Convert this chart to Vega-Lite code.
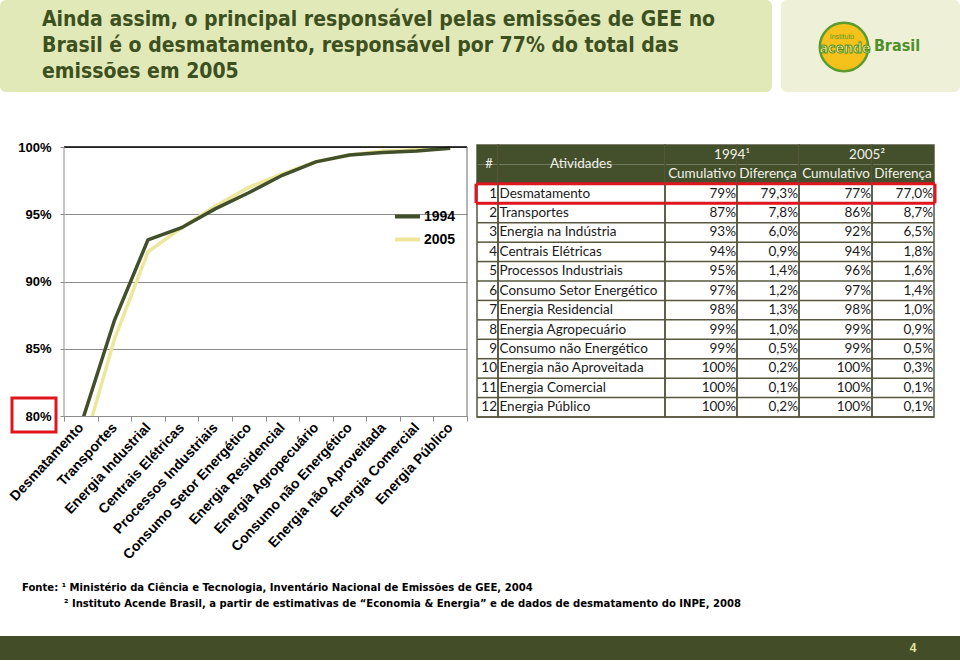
{
  "$schema": "https://vega.github.io/schema/vega-lite/v6.json",
  "padding": 0,
  "background": "white",
  "spacing": 0,
  "config": {"view": {"stroke": null}, "font": "Liberation Sans"},
  "datasets": {
    "series": [
      {"activity": "Desmatamento", "series": "1994", "value": 0.793},
      {"activity": "Transportes", "series": "1994", "value": 0.871},
      {"activity": "Energia Industrial", "series": "1994", "value": 0.931},
      {"activity": "Centrais Elétricas", "series": "1994", "value": 0.940},
      {"activity": "Processos Industriais", "series": "1994", "value": 0.954},
      {"activity": "Consumo Setor Energético", "series": "1994", "value": 0.966},
      {"activity": "Energia Residencial", "series": "1994", "value": 0.979},
      {"activity": "Energia Agropecuário", "series": "1994", "value": 0.989},
      {"activity": "Consumo não Energético", "series": "1994", "value": 0.994},
      {"activity": "Energia não Aproveitada", "series": "1994", "value": 0.996},
      {"activity": "Energia Comercial", "series": "1994", "value": 0.997},
      {"activity": "Energia Público", "series": "1994", "value": 0.999},
      {"activity": "Desmatamento", "series": "2005", "value": 0.770},
      {"activity": "Transportes", "series": "2005", "value": 0.857},
      {"activity": "Energia Industrial", "series": "2005", "value": 0.922},
      {"activity": "Centrais Elétricas", "series": "2005", "value": 0.940},
      {"activity": "Processos Industriais", "series": "2005", "value": 0.956},
      {"activity": "Consumo Setor Energético", "series": "2005", "value": 0.970},
      {"activity": "Energia Residencial", "series": "2005", "value": 0.980},
      {"activity": "Energia Agropecuário", "series": "2005", "value": 0.989},
      {"activity": "Consumo não Energético", "series": "2005", "value": 0.994},
      {"activity": "Energia não Aproveitada", "series": "2005", "value": 0.997},
      {"activity": "Energia Comercial", "series": "2005", "value": 0.998},
      {"activity": "Energia Público", "series": "2005", "value": 0.999}
    ],
    "rows": [
      {"rank": "1", "atividade": "Desmatamento", "c94": "79%", "d94": "79,3%", "c05": "77%", "d05": "77,0%"},
      {"rank": "2", "atividade": "Transportes", "c94": "87%", "d94": "7,8%", "c05": "86%", "d05": "8,7%"},
      {"rank": "3", "atividade": "Energia na Indústria", "c94": "93%", "d94": "6,0%", "c05": "92%", "d05": "6,5%"},
      {"rank": "4", "atividade": "Centrais Elétricas", "c94": "94%", "d94": "0,9%", "c05": "94%", "d05": "1,8%"},
      {"rank": "5", "atividade": "Processos Industriais", "c94": "95%", "d94": "1,4%", "c05": "96%", "d05": "1,6%"},
      {"rank": "6", "atividade": "Consumo Setor Energético", "c94": "97%", "d94": "1,2%", "c05": "97%", "d05": "1,4%"},
      {"rank": "7", "atividade": "Energia Residencial", "c94": "98%", "d94": "1,3%", "c05": "98%", "d05": "1,0%"},
      {"rank": "8", "atividade": "Energia Agropecuário", "c94": "99%", "d94": "1,0%", "c05": "99%", "d05": "0,9%"},
      {"rank": "9", "atividade": "Consumo não Energético", "c94": "99%", "d94": "0,5%", "c05": "99%", "d05": "0,5%"},
      {"rank": "10", "atividade": "Energia não Aproveitada", "c94": "100%", "d94": "0,2%", "c05": "100%", "d05": "0,3%"},
      {"rank": "11", "atividade": "Energia Comercial", "c94": "100%", "d94": "0,1%", "c05": "100%", "d05": "0,1%"},
      {"rank": "12", "atividade": "Energia Público", "c94": "100%", "d94": "0,2%", "c05": "100%", "d05": "0,1%"}
    ]
  },
  "vconcat": [
    {
      "hconcat": [
        {
          "width": 772, "height": 92,
          "view": {"fill": "#E2E9B9", "stroke": null, "cornerRadius": 6},
          "data": {"values": [
            {"line": 1, "t": "Ainda assim, o principal responsável pelas emissões de GEE no"},
            {"line": 2, "t": "Brasil é o desmatamento, responsável por 77% do total das"},
            {"line": 3, "t": "emissões em 2005"}
          ]},
          "mark": {"type": "text", "align": "left", "baseline": "middle", "font": "DejaVu Sans Condensed, sans-serif", "fontSize": 21, "fontWeight": "bold", "color": "#3D5020"},
          "encoding": {
            "y": {"field": "line", "type": "ordinal", "scale": {"type": "point", "padding": 0.77}, "axis": null},
            "x": {"value": 42},
            "text": {"field": "t"}
          }
        },
        {
          "width": 179, "height": 92,
          "view": {"fill": "#EEF1D8", "stroke": null, "cornerRadius": 6},
          "layer": [
            {
              "data": {"values": [{"name": "logo"}]},
              "mark": {"type": "point", "shape": "circle", "filled": true, "fill": "#F5C21B", "stroke": "#5C9B2F", "strokeWidth": 2.5, "size": 2350, "opacity": 1},
              "encoding": {"x": {"value": 63}, "y": {"value": 47}}
            },
            {
              "data": {"values": [{"t": "Instituto"}]},
              "mark": {"type": "text", "fontSize": 7, "color": "#5C9B2F", "align": "center", "baseline": "middle"},
              "encoding": {"x": {"value": 61}, "y": {"value": 37}, "text": {"field": "t"}}
            },
            {
              "data": {"values": [{"t": "acende"}]},
              "mark": {"type": "text", "font": "DejaVu Sans Condensed, sans-serif", "fontSize": 14, "fontWeight": "bold", "fill": "#FBE98C", "stroke": "#4F8F2A", "strokeWidth": 0.9, "align": "center", "baseline": "middle"},
              "encoding": {"x": {"value": 64}, "y": {"value": 49}, "text": {"field": "t"}}
            },
            {
              "data": {"values": [{"t": "Brasil"}]},
              "mark": {"type": "text", "font": "DejaVu Sans Condensed, sans-serif", "fontSize": 16, "fontWeight": "bold", "color": "#4F8F2A", "align": "center", "baseline": "middle"},
              "encoding": {"x": {"value": 116}, "y": {"value": 46}, "text": {"field": "t"}}
            }
          ]
        }
      ],
      "spacing": 9,
      "bounds": "flush"
    },
    {"width": 960, "height": 49, "view": {"fill": "white"}, "data": {"values": []}, "mark": "point", "encoding": {}},
    {
      "hconcat": [
        {"width": 64, "height": 1, "view": {"fill": "white"}, "data": {"values": []}, "mark": "point", "encoding": {}},
        {
          "width": 403, "height": 271,
          "layer": [
            {
              "data": {"name": "series"},
              "transform": [{"filter": "datum.series == '2005'"}],
              "mark": {"type": "line", "strokeWidth": 3.5, "clip": true},
              "encoding": {
                "x": {"field": "activity", "type": "nominal", "sort": ["Desmatamento","Transportes","Energia Industrial","Centrais Elétricas","Processos Industriais","Consumo Setor Energético","Energia Residencial","Energia Agropecuário","Consumo não Energético","Energia não Aproveitada","Energia Comercial","Energia Público"], "scale": {"type": "band", "paddingInner": 0, "paddingOuter": 0}, "bandPosition": 0.5,
                  "axis": {"title": null, "labelAngle": -47, "labelAlign": "right", "labelBaseline": "middle", "labelFont": "Liberation Sans", "labelFontWeight": "bold", "labelFontSize": 14, "labelColor": "#000000", "labelPadding": 4, "labelOverlap": false, "labelLimit": 300, "tickBand": "extent", "tickSize": 5, "tickColor": "#8c8c8c", "domainColor": "#8c8c8c", "grid": false}},
                "y": {"field": "value", "type": "quantitative", "scale": {"domain": [0.8, 1.0015], "zero": false, "nice": false},
                  "axis": {"values": [0.8, 0.85, 0.9, 0.95, 1], "format": ".0%", "title": null, "labelFont": "Liberation Sans", "labelFontWeight": "bold", "labelFontSize": 13, "labelColor": "#000000", "labelPadding": 9, "tickSize": 4, "tickColor": "#8c8c8c", "domain": false, "grid": true, "gridColor": "#8c8c8c", "gridWidth": 1}},
                "color": {"field": "series", "type": "nominal", "scale": {"domain": ["1994", "2005"], "range": ["#434F2A", "#ECE79B"]},
                  "legend": {"orient": "none", "legendX": 393, "legendY": 202, "title": null, "symbolType": "stroke", "symbolSize": 625, "symbolStrokeWidth": 4, "labelFont": "Liberation Sans", "labelFontWeight": "bold", "labelFontSize": 14, "labelColor": "#000000", "labelOffset": 2, "rowPadding": -1, "padding": 0}}
              }
            },
            {
              "data": {"name": "series"},
              "transform": [{"filter": "datum.series == '1994'"}],
              "mark": {"type": "line", "strokeWidth": 3.5, "clip": true},
              "encoding": {
                "x": {"field": "activity", "type": "nominal", "sort": ["Desmatamento","Transportes","Energia Industrial","Centrais Elétricas","Processos Industriais","Consumo Setor Energético","Energia Residencial","Energia Agropecuário","Consumo não Energético","Energia não Aproveitada","Energia Comercial","Energia Público"], "scale": {"type": "band", "paddingInner": 0, "paddingOuter": 0}, "bandPosition": 0.5},
                "y": {"field": "value", "type": "quantitative", "scale": {"domain": [0.8, 1.0015], "zero": false, "nice": false}},
                "color": {"field": "series", "type": "nominal", "scale": {"domain": ["1994", "2005"], "range": ["#434F2A", "#ECE79B"]}}
              }
            },
            {
              "data": {"values": [{"level": 1}]},
              "mark": {"type": "rule", "color": "#000000", "strokeWidth": 1.5},
              "encoding": {"y": {"field": "level", "type": "quantitative"}}
            },
            {
              "data": {"values": [{"lo": 0.8, "hi": 1}]},
              "mark": {"type": "rule", "color": "#8c8c8c", "strokeWidth": 1},
              "encoding": {"y": {"field": "lo", "type": "quantitative"}, "y2": {"field": "hi"}, "x": {"value": 0}}
            },
            {
              "data": {"values": [{"lo": 0.8, "hi": 1}]},
              "mark": {"type": "rule", "color": "#6a6a6a", "strokeWidth": 1},
              "encoding": {"y": {"field": "lo", "type": "quantitative"}, "y2": {"field": "hi"}, "x": {"value": "width"}}
            },
            {
              "data": {"values": [{"level": 0.8}]},
              "mark": {"type": "rect", "fill": "white", "fillOpacity": 0, "stroke": "#E0161F", "strokeWidth": 3, "yOffset": -18, "y2Offset": 16},
              "encoding": {"y": {"field": "level", "type": "quantitative"}, "y2": {"field": "level"}, "x": {"value": -52}, "x2": {"value": -8}}
            }
          ]
        },
        {"width": 10, "height": 1, "data": {"values": []}, "mark": "point", "encoding": {}},
        {
          "hconcat": [
            {
              "width": 21, "height": 272,
              "view": {"stroke": "#57573f", "strokeWidth": 1.5},
              "layer": [
                {"data": {"values": [{"line": "h1"}, {"line": "h2"}]}, "mark": {"type": "rect", "fill": "#44502C"}, "encoding": {"y": {"field": "line", "type": "ordinal", "scale": {"type": "band", "domain": ["h1","h2","1","2","3","4","5","6","7","8","9","10","11","12"], "paddingInner": 0, "paddingOuter": 0}, "axis": null}, "x": {"value": 0}, "x2": {"value": "width"}}},
                {"data": {"name": "rows"}, "mark": {"type": "rule", "color": "#57573f", "strokeWidth": 1.5}, "encoding": {"y": {"field": "rank", "type": "ordinal", "scale": {"type": "band", "domain": ["h1","h2","1","2","3","4","5","6","7","8","9","10","11","12"], "paddingInner": 0, "paddingOuter": 0}, "axis": null, "bandPosition": 1}, "x": {"value": 0}, "x2": {"value": "width"}}},
                {"data": {"name": "rows"}, "mark": {"type": "text", "align": "right", "baseline": "middle", "dx": -1, "font": "Lato", "fontSize": 13.5, "color": "#1a1a1a"}, "encoding": {"y": {"field": "rank", "type": "ordinal", "scale": {"type": "band", "domain": ["h1","h2","1","2","3","4","5","6","7","8","9","10","11","12"], "paddingInner": 0, "paddingOuter": 0}, "axis": null}, "x": {"value": "width"}, "text": {"field": "rank"}}},
                {"data": {"values": [{"label": "#", "line": "h1"}]}, "mark": {"type": "text", "align": "center", "baseline": "middle", "font": "Lato", "fontSize": 13, "color": "#F2F2EA"}, "encoding": {"y": {"field": "line", "type": "ordinal", "scale": {"type": "band", "domain": ["h1","h2","1","2","3","4","5","6","7","8","9","10","11","12"], "paddingInner": 0, "paddingOuter": 0}, "axis": null, "bandPosition": 1}, "x": {"value": 12}, "text": {"field": "label"}}},
                {"data": {"name": "rows"}, "transform": [{"filter": "datum.rank == '1'"}], "mark": {"type": "rule", "color": "#E0161F", "strokeWidth": 3}, "encoding": {"y": {"field": "rank", "type": "ordinal", "scale": {"type": "band", "domain": ["h1","h2","1","2","3","4","5","6","7","8","9","10","11","12"], "paddingInner": 0, "paddingOuter": 0}, "axis": null, "bandPosition": 0}, "x": {"value": -1}, "x2": {"value": "width"}}},
                {"data": {"name": "rows"}, "transform": [{"filter": "datum.rank == '1'"}], "mark": {"type": "rule", "color": "#E0161F", "strokeWidth": 3}, "encoding": {"y": {"field": "rank", "type": "ordinal", "scale": {"type": "band", "domain": ["h1","h2","1","2","3","4","5","6","7","8","9","10","11","12"], "paddingInner": 0, "paddingOuter": 0}, "axis": null, "bandPosition": 1}, "x": {"value": -1}, "x2": {"value": "width"}}},
                {"data": {"name": "rows"}, "transform": [{"filter": "datum.rank == '1'"}], "mark": {"type": "rect", "fill": "white", "fillOpacity": 0, "stroke": "#E0161F", "strokeWidth": 3}, "encoding": {"y": {"field": "rank", "type": "ordinal", "scale": {"type": "band", "domain": ["h1","h2","1","2","3","4","5","6","7","8","9","10","11","12"], "paddingInner": 0, "paddingOuter": 0}, "axis": null}, "x": {"value": -1}, "x2": {"value": -1}}}
              ]
            },
            {
              "width": 167, "height": 272,
              "view": {"stroke": "#57573f", "strokeWidth": 1.5},
              "layer": [
                {"data": {"values": [{"line": "h1"}, {"line": "h2"}]}, "mark": {"type": "rect", "fill": "#44502C"}, "encoding": {"y": {"field": "line", "type": "ordinal", "scale": {"type": "band", "domain": ["h1","h2","1","2","3","4","5","6","7","8","9","10","11","12"], "paddingInner": 0, "paddingOuter": 0}, "axis": null}, "x": {"value": 0}, "x2": {"value": "width"}}},
                {"data": {"name": "rows"}, "mark": {"type": "rule", "color": "#57573f", "strokeWidth": 1.5}, "encoding": {"y": {"field": "rank", "type": "ordinal", "scale": {"type": "band", "domain": ["h1","h2","1","2","3","4","5","6","7","8","9","10","11","12"], "paddingInner": 0, "paddingOuter": 0}, "axis": null, "bandPosition": 1}, "x": {"value": 0}, "x2": {"value": "width"}}},
                {"data": {"name": "rows"}, "mark": {"type": "text", "align": "left", "baseline": "middle", "dx": 1.5, "font": "Lato", "fontSize": 13.5, "color": "#1a1a1a"}, "encoding": {"y": {"field": "rank", "type": "ordinal", "scale": {"type": "band", "domain": ["h1","h2","1","2","3","4","5","6","7","8","9","10","11","12"], "paddingInner": 0, "paddingOuter": 0}, "axis": null}, "x": {"value": 0}, "text": {"field": "atividade"}}},
                {"data": {"values": [{"label": "Atividades", "line": "h1"}]}, "mark": {"type": "text", "align": "center", "baseline": "middle", "font": "Lato", "fontSize": 13.5, "color": "#F2F2EA"}, "encoding": {"y": {"field": "line", "type": "ordinal", "scale": {"type": "band", "domain": ["h1","h2","1","2","3","4","5","6","7","8","9","10","11","12"], "paddingInner": 0, "paddingOuter": 0}, "axis": null, "bandPosition": 1}, "x": {"value": 83}, "text": {"field": "label"}}},
                {"data": {"name": "rows"}, "transform": [{"filter": "datum.rank == '1'"}], "mark": {"type": "rule", "color": "#E0161F", "strokeWidth": 3}, "encoding": {"y": {"field": "rank", "type": "ordinal", "scale": {"type": "band", "domain": ["h1","h2","1","2","3","4","5","6","7","8","9","10","11","12"], "paddingInner": 0, "paddingOuter": 0}, "axis": null, "bandPosition": 0}, "x": {"value": 0}, "x2": {"value": "width"}}},
                {"data": {"name": "rows"}, "transform": [{"filter": "datum.rank == '1'"}], "mark": {"type": "rule", "color": "#E0161F", "strokeWidth": 3}, "encoding": {"y": {"field": "rank", "type": "ordinal", "scale": {"type": "band", "domain": ["h1","h2","1","2","3","4","5","6","7","8","9","10","11","12"], "paddingInner": 0, "paddingOuter": 0}, "axis": null, "bandPosition": 1}, "x": {"value": 0}, "x2": {"value": "width"}}}
              ]
            },
            {
              "width": 72, "height": 272,
              "view": {"stroke": "#57573f", "strokeWidth": 1.5},
              "layer": [
                {"data": {"values": [{"line": "h1"}, {"line": "h2"}]}, "mark": {"type": "rect", "fill": "#44502C"}, "encoding": {"y": {"field": "line", "type": "ordinal", "scale": {"type": "band", "domain": ["h1","h2","1","2","3","4","5","6","7","8","9","10","11","12"], "paddingInner": 0, "paddingOuter": 0}, "axis": null}, "x": {"value": 0}, "x2": {"value": "width"}}},
                {"data": {"name": "rows"}, "mark": {"type": "rule", "color": "#57573f", "strokeWidth": 1.5}, "encoding": {"y": {"field": "rank", "type": "ordinal", "scale": {"type": "band", "domain": ["h1","h2","1","2","3","4","5","6","7","8","9","10","11","12"], "paddingInner": 0, "paddingOuter": 0}, "axis": null, "bandPosition": 1}, "x": {"value": 0}, "x2": {"value": "width"}}},
                {"data": {"name": "rows"}, "mark": {"type": "text", "align": "right", "baseline": "middle", "dx": -1, "font": "Lato", "fontSize": 13.5, "color": "#1a1a1a"}, "encoding": {"y": {"field": "rank", "type": "ordinal", "scale": {"type": "band", "domain": ["h1","h2","1","2","3","4","5","6","7","8","9","10","11","12"], "paddingInner": 0, "paddingOuter": 0}, "axis": null}, "x": {"value": "width"}, "text": {"field": "c94"}}},
                {"data": {"values": [{"label": "Cumulativo", "line": "h2"}]}, "mark": {"type": "text", "align": "center", "baseline": "middle", "font": "Lato", "fontSize": 13.5, "color": "#F2F2EA"}, "encoding": {"y": {"field": "line", "type": "ordinal", "scale": {"type": "band", "domain": ["h1","h2","1","2","3","4","5","6","7","8","9","10","11","12"], "paddingInner": 0, "paddingOuter": 0}, "axis": null}, "x": {"value": 37}, "text": {"field": "label"}}},
                {"data": {"name": "rows"}, "transform": [{"filter": "datum.rank == '1'"}], "mark": {"type": "rule", "color": "#E0161F", "strokeWidth": 3}, "encoding": {"y": {"field": "rank", "type": "ordinal", "scale": {"type": "band", "domain": ["h1","h2","1","2","3","4","5","6","7","8","9","10","11","12"], "paddingInner": 0, "paddingOuter": 0}, "axis": null, "bandPosition": 0}, "x": {"value": 0}, "x2": {"value": "width"}}},
                {"data": {"name": "rows"}, "transform": [{"filter": "datum.rank == '1'"}], "mark": {"type": "rule", "color": "#E0161F", "strokeWidth": 3}, "encoding": {"y": {"field": "rank", "type": "ordinal", "scale": {"type": "band", "domain": ["h1","h2","1","2","3","4","5","6","7","8","9","10","11","12"], "paddingInner": 0, "paddingOuter": 0}, "axis": null, "bandPosition": 1}, "x": {"value": 0}, "x2": {"value": "width"}}}
              ]
            },
            {
              "width": 62, "height": 272,
              "view": {"stroke": "#57573f", "strokeWidth": 1.5},
              "layer": [
                {"data": {"values": [{"line": "h1"}, {"line": "h2"}]}, "mark": {"type": "rect", "fill": "#44502C"}, "encoding": {"y": {"field": "line", "type": "ordinal", "scale": {"type": "band", "domain": ["h1","h2","1","2","3","4","5","6","7","8","9","10","11","12"], "paddingInner": 0, "paddingOuter": 0}, "axis": null}, "x": {"value": 0}, "x2": {"value": "width"}}},
                {"data": {"name": "rows"}, "mark": {"type": "rule", "color": "#57573f", "strokeWidth": 1.5}, "encoding": {"y": {"field": "rank", "type": "ordinal", "scale": {"type": "band", "domain": ["h1","h2","1","2","3","4","5","6","7","8","9","10","11","12"], "paddingInner": 0, "paddingOuter": 0}, "axis": null, "bandPosition": 1}, "x": {"value": 0}, "x2": {"value": "width"}}},
                {"data": {"name": "rows"}, "mark": {"type": "text", "align": "right", "baseline": "middle", "dx": -1, "font": "Lato", "fontSize": 13.5, "color": "#1a1a1a"}, "encoding": {"y": {"field": "rank", "type": "ordinal", "scale": {"type": "band", "domain": ["h1","h2","1","2","3","4","5","6","7","8","9","10","11","12"], "paddingInner": 0, "paddingOuter": 0}, "axis": null}, "x": {"value": "width"}, "text": {"field": "d94"}}},
                {"data": {"values": [{"label": "Diferença", "line": "h2"}]}, "mark": {"type": "text", "align": "center", "baseline": "middle", "font": "Lato", "fontSize": 13.5, "color": "#F2F2EA"}, "encoding": {"y": {"field": "line", "type": "ordinal", "scale": {"type": "band", "domain": ["h1","h2","1","2","3","4","5","6","7","8","9","10","11","12"], "paddingInner": 0, "paddingOuter": 0}, "axis": null}, "x": {"value": 31}, "text": {"field": "label"}}},
                {"data": {"values": [{"label": "1994¹", "line": "h1"}]}, "mark": {"type": "text", "align": "center", "baseline": "middle", "dx": -5, "font": "Lato", "fontSize": 13.5, "color": "#F2F2EA"}, "encoding": {"y": {"field": "line", "type": "ordinal", "scale": {"type": "band", "domain": ["h1","h2","1","2","3","4","5","6","7","8","9","10","11","12"], "paddingInner": 0, "paddingOuter": 0}, "axis": null}, "x": {"value": 0}, "text": {"field": "label"}}},
                {"data": {"name": "rows"}, "transform": [{"filter": "datum.rank == '1'"}], "mark": {"type": "rule", "color": "#E0161F", "strokeWidth": 3}, "encoding": {"y": {"field": "rank", "type": "ordinal", "scale": {"type": "band", "domain": ["h1","h2","1","2","3","4","5","6","7","8","9","10","11","12"], "paddingInner": 0, "paddingOuter": 0}, "axis": null, "bandPosition": 0}, "x": {"value": 0}, "x2": {"value": "width"}}},
                {"data": {"name": "rows"}, "transform": [{"filter": "datum.rank == '1'"}], "mark": {"type": "rule", "color": "#E0161F", "strokeWidth": 3}, "encoding": {"y": {"field": "rank", "type": "ordinal", "scale": {"type": "band", "domain": ["h1","h2","1","2","3","4","5","6","7","8","9","10","11","12"], "paddingInner": 0, "paddingOuter": 0}, "axis": null, "bandPosition": 1}, "x": {"value": 0}, "x2": {"value": "width"}}}
              ]
            },
            {
              "width": 73, "height": 272,
              "view": {"stroke": "#57573f", "strokeWidth": 1.5},
              "layer": [
                {"data": {"values": [{"line": "h1"}, {"line": "h2"}]}, "mark": {"type": "rect", "fill": "#44502C"}, "encoding": {"y": {"field": "line", "type": "ordinal", "scale": {"type": "band", "domain": ["h1","h2","1","2","3","4","5","6","7","8","9","10","11","12"], "paddingInner": 0, "paddingOuter": 0}, "axis": null}, "x": {"value": 0}, "x2": {"value": "width"}}},
                {"data": {"name": "rows"}, "mark": {"type": "rule", "color": "#57573f", "strokeWidth": 1.5}, "encoding": {"y": {"field": "rank", "type": "ordinal", "scale": {"type": "band", "domain": ["h1","h2","1","2","3","4","5","6","7","8","9","10","11","12"], "paddingInner": 0, "paddingOuter": 0}, "axis": null, "bandPosition": 1}, "x": {"value": 0}, "x2": {"value": "width"}}},
                {"data": {"name": "rows"}, "mark": {"type": "text", "align": "right", "baseline": "middle", "dx": -1, "font": "Lato", "fontSize": 13.5, "color": "#1a1a1a"}, "encoding": {"y": {"field": "rank", "type": "ordinal", "scale": {"type": "band", "domain": ["h1","h2","1","2","3","4","5","6","7","8","9","10","11","12"], "paddingInner": 0, "paddingOuter": 0}, "axis": null}, "x": {"value": "width"}, "text": {"field": "c05"}}},
                {"data": {"values": [{"label": "Cumulativo", "line": "h2"}]}, "mark": {"type": "text", "align": "center", "baseline": "middle", "font": "Lato", "fontSize": 13.5, "color": "#F2F2EA"}, "encoding": {"y": {"field": "line", "type": "ordinal", "scale": {"type": "band", "domain": ["h1","h2","1","2","3","4","5","6","7","8","9","10","11","12"], "paddingInner": 0, "paddingOuter": 0}, "axis": null}, "x": {"value": 37}, "text": {"field": "label"}}},
                {"data": {"name": "rows"}, "transform": [{"filter": "datum.rank == '1'"}], "mark": {"type": "rule", "color": "#E0161F", "strokeWidth": 3}, "encoding": {"y": {"field": "rank", "type": "ordinal", "scale": {"type": "band", "domain": ["h1","h2","1","2","3","4","5","6","7","8","9","10","11","12"], "paddingInner": 0, "paddingOuter": 0}, "axis": null, "bandPosition": 0}, "x": {"value": 0}, "x2": {"value": "width"}}},
                {"data": {"name": "rows"}, "transform": [{"filter": "datum.rank == '1'"}], "mark": {"type": "rule", "color": "#E0161F", "strokeWidth": 3}, "encoding": {"y": {"field": "rank", "type": "ordinal", "scale": {"type": "band", "domain": ["h1","h2","1","2","3","4","5","6","7","8","9","10","11","12"], "paddingInner": 0, "paddingOuter": 0}, "axis": null, "bandPosition": 1}, "x": {"value": 0}, "x2": {"value": "width"}}}
              ]
            },
            {
              "width": 62, "height": 272,
              "view": {"stroke": "#57573f", "strokeWidth": 1.5},
              "layer": [
                {"data": {"values": [{"line": "h1"}, {"line": "h2"}]}, "mark": {"type": "rect", "fill": "#44502C"}, "encoding": {"y": {"field": "line", "type": "ordinal", "scale": {"type": "band", "domain": ["h1","h2","1","2","3","4","5","6","7","8","9","10","11","12"], "paddingInner": 0, "paddingOuter": 0}, "axis": null}, "x": {"value": 0}, "x2": {"value": "width"}}},
                {"data": {"name": "rows"}, "mark": {"type": "rule", "color": "#57573f", "strokeWidth": 1.5}, "encoding": {"y": {"field": "rank", "type": "ordinal", "scale": {"type": "band", "domain": ["h1","h2","1","2","3","4","5","6","7","8","9","10","11","12"], "paddingInner": 0, "paddingOuter": 0}, "axis": null, "bandPosition": 1}, "x": {"value": 0}, "x2": {"value": "width"}}},
                {"data": {"name": "rows"}, "mark": {"type": "text", "align": "right", "baseline": "middle", "dx": -1, "font": "Lato", "fontSize": 13.5, "color": "#1a1a1a"}, "encoding": {"y": {"field": "rank", "type": "ordinal", "scale": {"type": "band", "domain": ["h1","h2","1","2","3","4","5","6","7","8","9","10","11","12"], "paddingInner": 0, "paddingOuter": 0}, "axis": null}, "x": {"value": "width"}, "text": {"field": "d05"}}},
                {"data": {"values": [{"label": "Diferença", "line": "h2"}]}, "mark": {"type": "text", "align": "center", "baseline": "middle", "font": "Lato", "fontSize": 13.5, "color": "#F2F2EA"}, "encoding": {"y": {"field": "line", "type": "ordinal", "scale": {"type": "band", "domain": ["h1","h2","1","2","3","4","5","6","7","8","9","10","11","12"], "paddingInner": 0, "paddingOuter": 0}, "axis": null}, "x": {"value": 31}, "text": {"field": "label"}}},
                {"data": {"values": [{"label": "2005²", "line": "h1"}]}, "mark": {"type": "text", "align": "center", "baseline": "middle", "dx": -5, "font": "Lato", "fontSize": 13.5, "color": "#F2F2EA"}, "encoding": {"y": {"field": "line", "type": "ordinal", "scale": {"type": "band", "domain": ["h1","h2","1","2","3","4","5","6","7","8","9","10","11","12"], "paddingInner": 0, "paddingOuter": 0}, "axis": null}, "x": {"value": 0}, "text": {"field": "label"}}},
                {"data": {"name": "rows"}, "transform": [{"filter": "datum.rank == '1'"}], "mark": {"type": "rule", "color": "#E0161F", "strokeWidth": 3}, "encoding": {"y": {"field": "rank", "type": "ordinal", "scale": {"type": "band", "domain": ["h1","h2","1","2","3","4","5","6","7","8","9","10","11","12"], "paddingInner": 0, "paddingOuter": 0}, "axis": null, "bandPosition": 0}, "x": {"value": 0}, "x2": {"value": 63}}},
                {"data": {"name": "rows"}, "transform": [{"filter": "datum.rank == '1'"}], "mark": {"type": "rule", "color": "#E0161F", "strokeWidth": 3}, "encoding": {"y": {"field": "rank", "type": "ordinal", "scale": {"type": "band", "domain": ["h1","h2","1","2","3","4","5","6","7","8","9","10","11","12"], "paddingInner": 0, "paddingOuter": 0}, "axis": null, "bandPosition": 1}, "x": {"value": 0}, "x2": {"value": 63}}},
                {"data": {"name": "rows"}, "transform": [{"filter": "datum.rank == '1'"}], "mark": {"type": "rect", "fill": "white", "fillOpacity": 0, "stroke": "#E0161F", "strokeWidth": 3}, "encoding": {"y": {"field": "rank", "type": "ordinal", "scale": {"type": "band", "domain": ["h1","h2","1","2","3","4","5","6","7","8","9","10","11","12"], "paddingInner": 0, "paddingOuter": 0}, "axis": null}, "x": {"value": 63}, "x2": {"value": 63}}}
              ]
            }
          ],
          "spacing": 0,
          "bounds": "flush"
        }
      ],
      "spacing": 0,
      "bounds": "flush"
    },
    {"width": 960, "height": 18, "view": {"fill": "white"}, "data": {"values": []}, "mark": "point", "encoding": {}},
    {
      "width": 960, "height": 32,
      "view": {"fill": "white"},
      "data": {"values": [
        {"line": 1, "t": "Fonte: ¹  Ministério  da Ciência e Tecnologia, Inventário Nacional de Emissões de GEE, 2004"},
        {"line": 2, "t": "² Instituto Acende Brasil, a partir de estimativas de “Economia & Energia” e  de dados de desmatamento do INPE, 2008"}
      ]},
      "layer": [
        {
          "transform": [{"filter": "datum.line == 1"}],
          "mark": {"type": "text", "align": "left", "baseline": "middle", "font": "DejaVu Sans Condensed, sans-serif", "fontSize": 11.2, "fontWeight": "bold", "color": "#000000"},
          "encoding": {"y": {"field": "line", "type": "ordinal", "scale": {"type": "point", "domain": [1, 2], "padding": 0.5}, "axis": null}, "x": {"value": 22}, "text": {"field": "t"}}
        },
        {
          "transform": [{"filter": "datum.line == 2"}],
          "mark": {"type": "text", "align": "left", "baseline": "middle", "font": "DejaVu Sans Condensed, sans-serif", "fontSize": 11.2, "fontWeight": "bold", "color": "#000000"},
          "encoding": {"y": {"field": "line", "type": "ordinal", "scale": {"type": "point", "domain": [1, 2], "padding": 0.5}, "axis": null}, "x": {"value": 64}, "text": {"field": "t"}}
        }
      ]
    },
    {"width": 960, "height": 24, "view": {"fill": "white"}, "data": {"values": []}, "mark": "point", "encoding": {}},
    {
      "width": 960, "height": 24,
      "view": {"fill": "#434E29", "stroke": null},
      "data": {"values": [{"page": "4"}]},
      "mark": {"type": "text", "align": "center", "baseline": "middle", "font": "Liberation Sans", "fontSize": 12, "fontWeight": "bold", "color": "#E6E3A0"},
      "encoding": {"x": {"value": 913}, "y": {"value": 12}, "text": {"field": "page"}}
    }
  ]
}
